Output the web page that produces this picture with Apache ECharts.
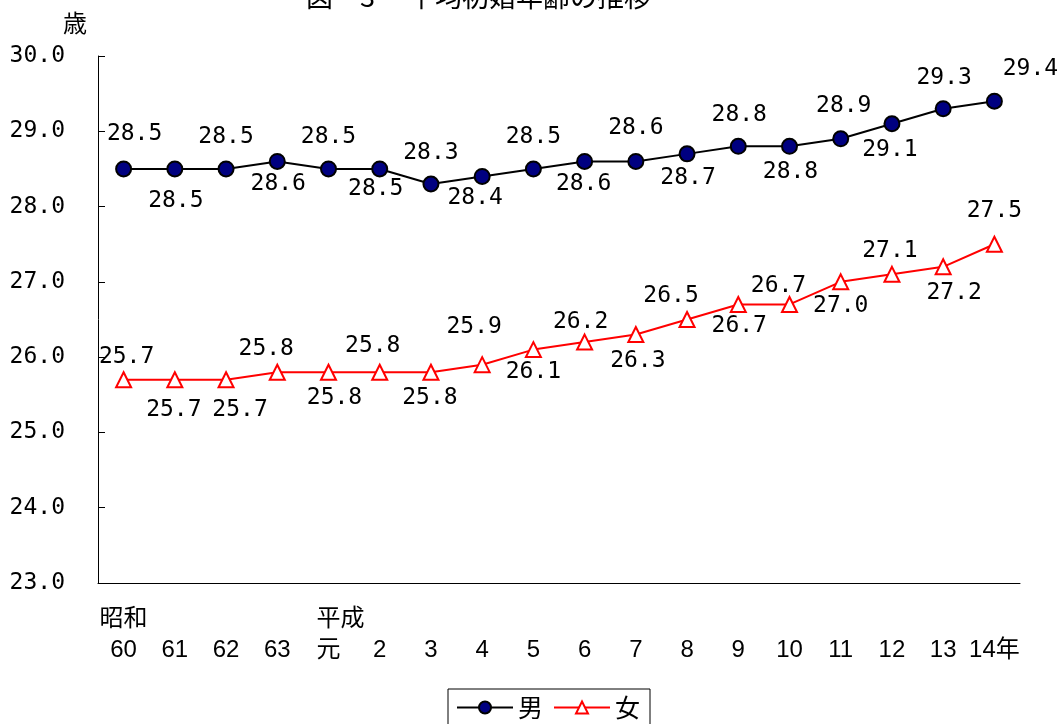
<!DOCTYPE html>
<html>
<head>
<meta charset="utf-8">
<script src="https://cdn.jsdelivr.net/npm/echarts@6/dist/echarts.min.js"></script>
<style>
html,body{margin:0;padding:0;background:#fff;}
#c{width:1060px;height:724px;}
</style>
</head>
<body>
<div id="c"></div>
<script>
const titleText = '図　3　 平均初婚年齢の推移';
const unitLabel = '歳';
const eraRow = ['昭和', '', '', '', '平成', '', '', '', '', '', '', '', '', '', '', '', '', ''];
const yearRow = ['60', '61', '62', '63', '元', '2', '3', '4', '5', '6', '7', '8', '9', '10', '11', '12', '13', '14年'];
const seriesNames = ['男', '女'];
const male = [28.5, 28.5, 28.5, 28.6, 28.5, 28.5, 28.3, 28.4, 28.5, 28.6, 28.6, 28.7, 28.8, 28.8, 28.9, 29.1, 29.3, 29.4];
const female = [25.7, 25.7, 25.7, 25.8, 25.8, 25.8, 25.8, 25.9, 26.1, 26.2, 26.3, 26.5, 26.7, 26.7, 27.0, 27.1, 27.2, 27.5];

// category label text: era on first line (shifted for 平成), year on second line
const categories = yearRow.map((y, i) => {
  const era = eraRow[i];
  if (!era) return '{era|}\n{num|' + y + '}';
  return (i === 0 ? '{era|' : '{eraR|') + era + '}\n{num|' + y + '}';
});

const monoFont = '"DejaVu Sans Mono", "Liberation Mono", monospace';
const xFont = '"Liberation Sans Narrow", "Liberation Sans", "Noto Sans CJK JP", sans-serif';
const cjkFont = '"Noto Sans CJK JP", sans-serif';

// label placement (layout only): [dx, dy] of label centre from the marker centre
const maleLabelPos = [[11,-35],[1,32],[0,-32],[1,23],[0,-32],[-4,20],[0,-31],[-7,22],[0,-32],[-1,23],[0,-33],[1,24],[1,-31],[1,26],[3,-33],[-2,26],[1,-31],[36,-32]];
const femaleLabelPos = [[3,-23],[-1,30],[14,30],[-11,-23],[6,26],[-7,-26],[-1,26],[-8,-38],[0,22],[-4,-20],[2,26],[-16,-23],[1,22],[-11,-18],[0,24],[-2,-23],[11,26],[0,-33]];

function mkData(vals, pos) {
  return vals.map((v, i) => ({
    value: v,
    label: {position: 'inside', offset: pos[i]}
  }));
}

const labelStyle = {
  show: true,
  color: '#000',
  fontFamily: monoFont,
  fontSize: 23,
  formatter: (p) => p.value.toFixed(1)
};

const chart = echarts.init(document.getElementById('c'), null, {renderer: 'canvas'});
chart.setOption({
  animation: false,
  backgroundColor: '#fff',
  title: {
    text: titleText,
    left: 301,
    top: -22,
    textStyle: {fontFamily: cjkFont, fontSize: 27, fontWeight: 'normal', color: '#000'}
  },
  graphic: [{
    type: 'text', left: 63, top: 11,
    style: {text: unitLabel, font: '24px "Noto Sans CJK JP", sans-serif', fill: '#000'}
  }],
  legend: {
    data: seriesNames,
    top: 689,
    left: 448,
    itemWidth: 56,
    itemHeight: 15,
    itemGap: 10,
    padding: [6, 10, 14, 8],
    borderColor: '#000',
    borderWidth: 1,
    textStyle: {fontFamily: cjkFont, fontSize: 25, color: '#000'}
  },
  grid: {left: 98, right: 40, top: 56, bottom: 141, containLabel: false},
  xAxis: {
    type: 'category',
    data: categories,
    boundaryGap: true,
    axisLine: {lineStyle: {color: '#000', width: 1}},
    axisTick: {inside: true, length: 6, interval: 0, lineStyle: {color: '#000'}},
    axisLabel: {
      interval: 0, margin: 18, color: '#000',
      rich: {
        era: {fontFamily: cjkFont, fontSize: 24, lineHeight: 32, color: '#000'},
        eraR: {fontFamily: cjkFont, fontSize: 24, lineHeight: 32, color: '#000', padding: [0, 0, 0, 24]},
        num: {fontFamily: xFont, fontSize: 24, lineHeight: 34, color: '#000'}
      }
    }
  },
  yAxis: {
    type: 'value',
    min: 23, max: 30, interval: 1,
    axisLine: {show: true, lineStyle: {color: '#000', width: 1}},
    axisTick: {show: true, inside: true, length: 7, lineStyle: {color: '#000'}},
    splitLine: {show: false},
    axisLabel: {
      color: '#000', fontSize: 23, margin: 33, fontFamily: monoFont,
      formatter: (v) => v.toFixed(1)
    }
  },
  series: [
    {
      name: seriesNames[0], type: 'line', data: mkData(male, maleLabelPos),
      symbol: 'circle', symbolSize: 15,
      lineStyle: {color: '#000', width: 2},
      itemStyle: {color: '#000080', borderColor: '#000', borderWidth: 2},
      label: labelStyle
    },
    {
      name: seriesNames[1], type: 'line', data: mkData(female, femaleLabelPos),
      symbol: 'triangle', symbolSize: 15,
      lineStyle: {color: '#ff0000', width: 2},
      itemStyle: {color: '#fff', borderColor: '#ff0000', borderWidth: 2},
      label: labelStyle
    }
  ]
});
</script>
</body>
</html>
